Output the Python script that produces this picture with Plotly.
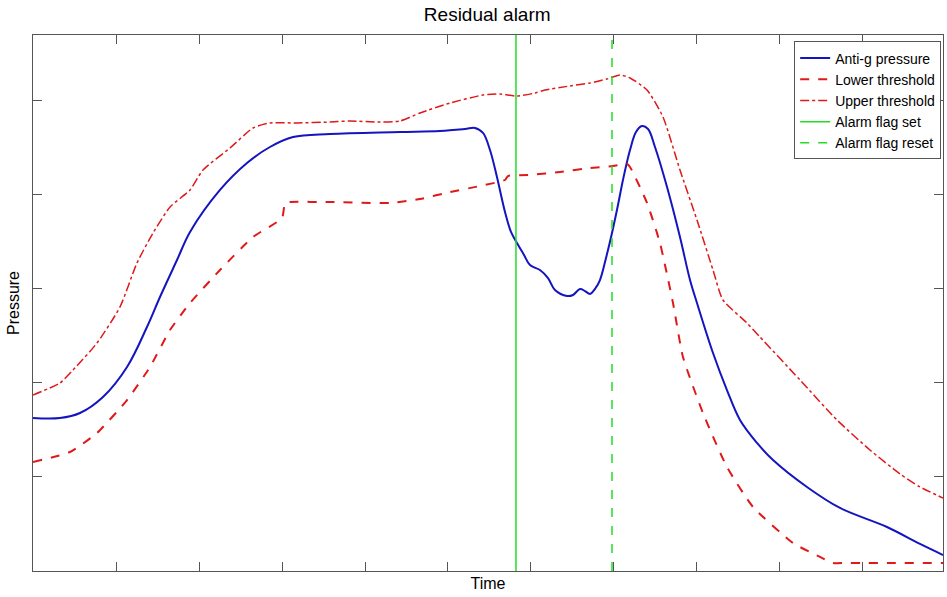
import plotly.graph_objects as go

# Anti-g pressure
t_p = [0.000, 0.325, 0.566, 0.843, 1.133, 1.373, 1.530, 1.735, 1.892, 2.253, 2.578, 2.855,
       3.133, 3.578, 4.422, 4.904, 5.205, 5.325, 5.422, 5.506, 5.590, 5.687, 5.759, 5.831,
       5.916, 5.988, 6.108, 6.205, 6.289, 6.434, 6.506, 6.590, 6.651, 6.711, 6.771, 6.831,
       6.904, 6.976, 7.048, 7.108, 7.193, 7.265, 7.337, 7.410, 7.494, 7.639, 7.795, 7.916,
       8.000, 8.193, 8.361, 8.518, 8.723, 8.916, 9.325, 9.723, 10.289, 10.687, 10.964]
p_p = [1.624, 1.624, 1.677, 1.847, 2.166, 2.590, 2.909, 3.301, 3.599, 4.045, 4.331, 4.501,
       4.607, 4.639, 4.660, 4.671, 4.692, 4.703, 4.650, 4.469, 4.183, 3.811, 3.599, 3.482,
       3.355, 3.248, 3.195, 3.110, 2.983, 2.919, 2.930, 2.994, 2.972, 2.941, 2.994, 3.089,
       3.323, 3.588, 3.885, 4.151, 4.469, 4.660, 4.724, 4.692, 4.501, 4.076, 3.546, 3.089,
       2.845, 2.314, 1.921, 1.603, 1.359, 1.178, 0.892, 0.669, 0.467, 0.287, 0.170]

# Lower threshold
t_lo = [0.000, 0.446, 0.771, 1.133, 1.410, 1.651, 1.892, 2.253, 2.651, 3.000, 3.036, 3.096,
        3.578, 4.301, 4.663, 5.024, 5.386, 5.687, 5.723, 5.988, 6.349, 6.711, 6.988, 7.157,
        7.193, 7.398, 7.554, 7.711, 7.831, 8.072, 8.361, 8.675, 9.157, 9.482, 9.639, 9.800,
        10.000, 10.964]
p_lo = [1.157, 1.263, 1.465, 1.815, 2.166, 2.558, 2.845, 3.195, 3.546, 3.747, 3.907, 3.917,
        3.917, 3.907, 3.949, 4.023, 4.087, 4.151, 4.193, 4.204, 4.236, 4.278, 4.299, 4.321,
        4.289, 3.907, 3.482, 2.845, 2.272, 1.677, 1.104, 0.679, 0.297, 0.149, 0.085, 0.085,
        0.085, 0.085]

# Upper threshold
t_up = [0.000, 0.325, 0.482, 0.771, 1.048, 1.253, 1.446, 1.651, 1.892, 2.048, 2.373, 2.651,
        2.855, 3.181, 3.578, 3.819, 4.181, 4.422, 4.663, 5.024, 5.422, 5.627, 5.831, 6.048,
        6.169, 6.470, 6.711, 6.916, 7.072, 7.193, 7.398, 7.590, 7.795, 8.000, 8.193, 8.313,
        8.602, 8.759, 9.241, 9.687, 10.084, 10.446, 10.687, 10.964]
p_up = [1.868, 1.996, 2.134, 2.420, 2.803, 3.270, 3.588, 3.864, 4.045, 4.257, 4.490, 4.703,
        4.756, 4.756, 4.766, 4.777, 4.766, 4.777, 4.862, 4.968, 5.053, 5.064, 5.042, 5.074,
        5.106, 5.149, 5.180, 5.223, 5.265, 5.234, 5.106, 4.820, 4.257, 3.726, 3.195, 2.877,
        2.633, 2.484, 2.028, 1.603, 1.285, 1.030, 0.892, 0.775]

alarm_set_time = 5.819
alarm_reset_time = 6.976

x_range = [0, 10.964]
y_range = [0, 5.69]
x_ticks = [1, 2, 3, 4, 5, 6, 7, 8, 9, 10]
y_ticks = [1, 2, 3, 4, 5]

RED = "#e01818"
fig = go.Figure()
fig.add_trace(go.Scatter(x=t_p, y=p_p, mode="lines", name="Anti-g pressure",
                         line=dict(color="#1414c0", width=2, shape="spline", smoothing=1.0)))
fig.add_trace(go.Scatter(x=t_lo, y=p_lo, mode="lines", name="Lower threshold",
                         line=dict(color=RED, width=2, dash="dash", shape="spline", smoothing=0.5)))
fig.add_trace(go.Scatter(x=t_up, y=p_up, mode="lines", name="Upper threshold",
                         line=dict(color=RED, width=1.5, dash="dashdot", shape="spline", smoothing=0.6)))
fig.add_trace(go.Scatter(x=[alarm_set_time, alarm_set_time], y=y_range, mode="lines",
                         name="Alarm flag set", line=dict(color="#22dd22", width=1.5)))
fig.add_trace(go.Scatter(x=[alarm_reset_time, alarm_reset_time], y=y_range, mode="lines",
                         name="Alarm flag reset", line=dict(color="#22dd22", width=1.5, dash="dash")))

axis_common = dict(showgrid=False, zeroline=False, showline=True, linecolor="#555555",
                   linewidth=1, mirror="ticks", ticks="inside", ticklen=9, tickcolor="#555555",
                   showticklabels=False, automargin=False)

fig.update_layout(
    width=947, height=597,
    margin=dict(l=33, r=4, t=35, b=26),
    paper_bgcolor="white", plot_bgcolor="white",
    font=dict(family="Liberation Sans, Arial, sans-serif", color="black", size=14),
    title=dict(text="Residual alarm", x=0.5145, xanchor="center", y=0.976, yanchor="middle",
               font=dict(size=19), automargin=False),
    xaxis=dict(range=x_range, tickvals=x_ticks,
               title=dict(text="Time", standoff=6, font=dict(size=16)), **axis_common),
    yaxis=dict(range=y_range, tickvals=y_ticks,
               title=dict(text="Pressure", standoff=8, font=dict(size=16)), **axis_common),
    legend=dict(x=0.998, y=0.988, xanchor="right", yanchor="top", bgcolor="white",
                bordercolor="#555555", borderwidth=1, font=dict(size=14),
                tracegroupgap=0, itemwidth=30),
    showlegend=True,
)

# remove the default page margin so the figure sits at the window's top-left corner
fig.write_html("out.html", config={"displayModeBar": False},
               post_script="document.body.style.margin='0';document.body.style.overflow='hidden';")
